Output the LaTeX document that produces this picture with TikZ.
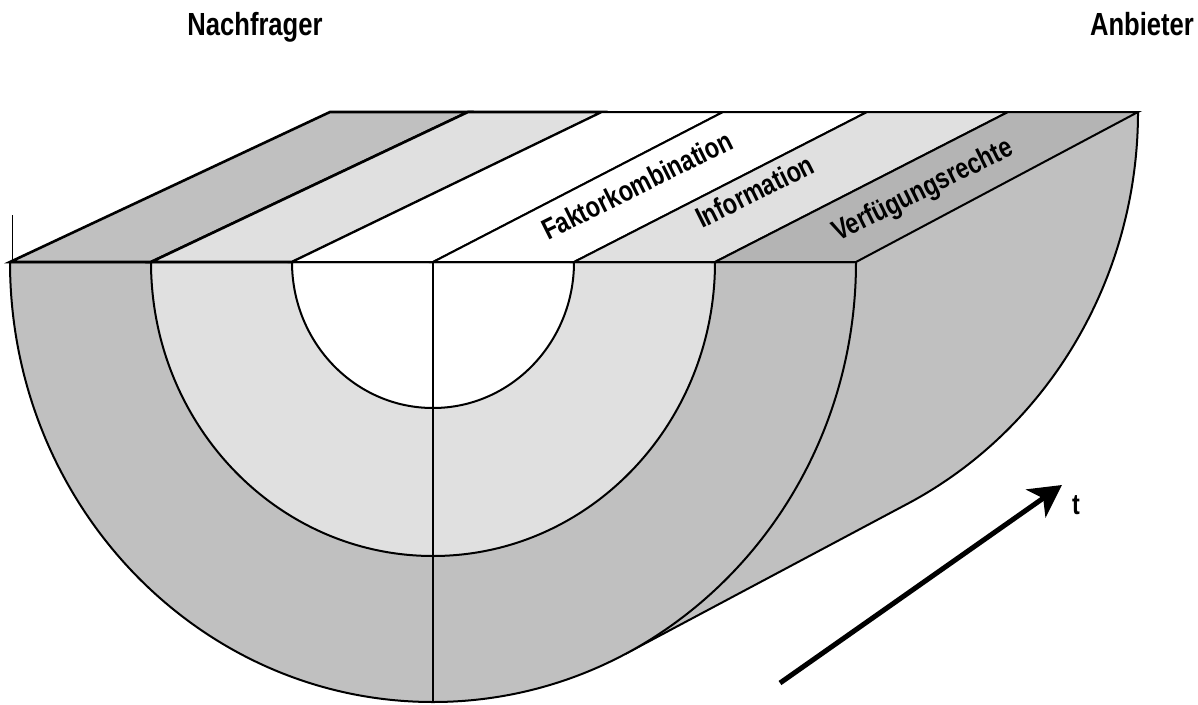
\documentclass[tikz,border=0pt]{standalone}
\usepackage{fontspec}
\setmainfont{Liberation Sans}[FakeStretch=0.8]
\usetikzlibrary{arrows.meta}
\definecolor{ringdark}{RGB}{192,192,192}
\definecolor{ringlight}{RGB}{224,224,224}
\definecolor{stripedark}{RGB}{180,180,180}
\begin{document}
\begin{tikzpicture}[x=1pt,y=-1pt,
  edge/.style={line width=2pt},
  topedge/.style={line width=2.6pt},
  bandlabel/.style={font=\bfseries\fontsize{29}{32}\selectfont, inner sep=0pt, anchor=base west, rotate=26.5},
  sidelabel/.style={font=\bfseries\fontsize{32}{36}\selectfont, inner sep=0pt, anchor=base},
  timearrow/.style={line width=5pt, -{Stealth[length=32pt,width=34pt,inset=9pt]}}]
\useasboundingbox (0,0) rectangle (1198,704);

% curved outer surface of the half cylinder
\fill[ringdark] (856,262) -- (1138,112)
  arc[start angle=0, end angle=-62.9, x radius=423pt, y radius=440pt]
  -- (625.8,653.7)
  arc[start angle=-62.9, end angle=0, x radius=423pt, y radius=440pt] -- cycle;
\draw[edge] (1138,112)
  arc[start angle=0, end angle=-62.9, x radius=423pt, y radius=440pt]
  -- (625.8,653.7);

% front face: three half rings
\filldraw[fill=ringdark, edge] (10,262)
  arc[start angle=180, end angle=360, x radius=423pt, y radius=440pt] -- cycle;
\filldraw[fill=ringlight, edge] (151,262)
  arc[start angle=180, end angle=360, x radius=282pt, y radius=294pt] -- cycle;
\filldraw[fill=white, edge] (292,262)
  arc[start angle=180, end angle=360, x radius=141pt, y radius=146pt] -- cycle;
\draw[edge] (433,262) -- (433,702);

% top face: six bands
\filldraw[fill=ringdark, topedge] (10,262) -- (151,262) -- (468,112) -- (330,112) -- cycle;
\filldraw[fill=ringlight, topedge] (151,262) -- (292,262) -- (602,112) -- (468,112) -- cycle;
\filldraw[fill=white, edge] (292,262) -- (433,262) -- (723,112) -- (602,112) -- cycle;
\filldraw[fill=white, edge] (433,262) -- (574,262) -- (867,112) -- (723,112) -- cycle;
\filldraw[fill=ringlight, edge] (574,262) -- (715,262) -- (1008,112) -- (867,112) -- cycle;
\filldraw[fill=stripedark, edge] (715,262) -- (856,262) -- (1138,112) -- (1008,112) -- cycle;
\draw[topedge] (330,112) -- (1138,112);
\draw[topedge] (10,262) -- (856,262);
\draw[line width=1pt] (12,215) -- (12,262);

% band labels
\node[bandlabel] (faktor) at (548,241) {Faktorkombination};
\node[bandlabel] (info) at (702,229) {Information};
\node[bandlabel] (verf) at (838,242) {Verfügungsrechte};

% market sides
\node[sidelabel] (nach) at (255,35) {Nachfrager};
\node[sidelabel] (anb) at (1142,35) {Anbieter};

% time axis
\coordinate (tstart) at (780,683);
\coordinate (tend) at (1062,485);
\draw[timearrow] (tstart) -- (tend);
\node[font=\bfseries\fontsize{29}{32}\selectfont, inner sep=0pt] (tlabel) at (1076,505) {t};
\end{tikzpicture}
\end{document}
